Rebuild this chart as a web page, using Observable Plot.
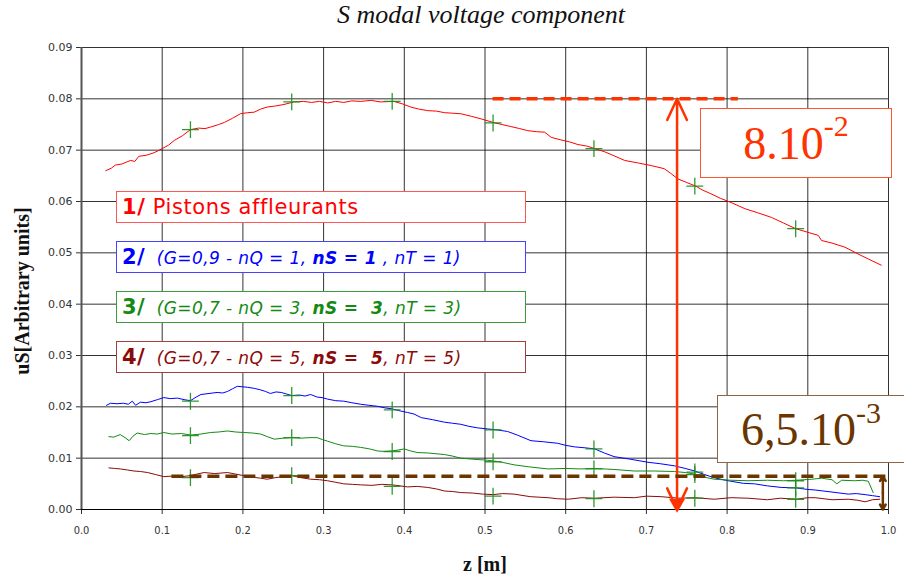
<!DOCTYPE html>
<html>
<head>
<meta charset="utf-8">
<script src="https://cdn.jsdelivr.net/npm/d3@7"></script>
<script src="https://cdn.jsdelivr.net/npm/@observablehq/plot@0.6"></script>
<style>
  html, body { margin: 0; padding: 0; background: #fff; }
  #wrap { position: relative; width: 904px; height: 580px; overflow: hidden; }
  #title { height: 38px; line-height: 42px; text-align: center; font: italic 26px "Liberation Serif", serif; color: #111;
           padding-left: 58px; box-sizing: border-box; width: 904px; }
  .axis-title { position: absolute; font: bold 20px "Liberation Serif", serif; color: #111; white-space: nowrap; text-align: center; }
  .key { position: absolute; left: 116px; background: #fff; border: 1.5px solid; box-sizing: border-box; width: 410px; height: 32px;
         font-family: "DejaVu Sans", sans-serif; white-space: nowrap; line-height: 30px; padding-left: 5px; }
  .key b.num { font-style: normal; font-weight: bold; font-size: 21px; }
  .key i { font-style: italic; }
  .note { position: absolute; background: #fff; border: 1.5px solid; box-sizing: border-box; text-align: center;
          font-family: "Liberation Serif", serif; font-size: 46px; }
  .note sup { font-size: 30px; position: relative; top: 2px; vertical-align: top; line-height: 1; }
</style>
</head>
<body>
<div id="wrap">
  <div id="title">S modal voltage component</div>
  <div id="chart"></div>
</div>
<script>
// Series: [z (m), uS (arbitrary units)]
const pistons = [
  [0.030,0.0660],[0.037,0.0665],[0.042,0.0671],[0.050,0.0673],[0.056,0.0677],[0.061,0.0680],[0.066,0.0678],
  [0.071,0.0688],[0.080,0.0690],[0.090,0.0695],[0.100,0.0703],[0.108,0.0710],[0.115,0.0719],[0.125,0.0728],
  [0.135,0.0740],[0.145,0.0743],[0.153,0.0742],[0.160,0.0745],[0.170,0.0750],[0.177,0.0754],[0.187,0.0762],
  [0.197,0.0771],[0.206,0.0773],[0.214,0.0774],[0.222,0.0780],[0.230,0.0784],[0.240,0.0786],[0.251,0.0789],
  [0.263,0.0794],[0.275,0.0795],[0.285,0.0793],[0.295,0.0795],[0.305,0.0792],[0.315,0.0795],[0.325,0.0793],
  [0.335,0.0796],[0.346,0.0795],[0.359,0.0797],[0.370,0.0794],[0.387,0.0795],[0.398,0.0790],[0.408,0.0784],
  [0.418,0.0780],[0.429,0.0777],[0.440,0.0776],[0.450,0.0773],[0.460,0.0772],[0.470,0.0771],[0.483,0.0766],
  [0.495,0.0761],[0.510,0.0754],[0.521,0.0750],[0.532,0.0746],[0.543,0.0742],[0.553,0.0738],[0.564,0.0736],
  [0.574,0.0735],[0.582,0.0725],[0.594,0.0720],[0.605,0.0716],[0.615,0.0711],[0.626,0.0708],[0.636,0.0703],
  [0.648,0.0697],[0.660,0.0689],[0.673,0.0680],[0.690,0.0675],[0.706,0.0670],[0.722,0.0664],[0.730,0.0655],
  [0.739,0.0644],[0.750,0.0637],[0.761,0.0630],[0.770,0.0622],[0.780,0.0615],[0.792,0.0606],[0.805,0.0598],
  [0.822,0.0586],[0.838,0.0578],[0.855,0.0569],[0.870,0.0558],[0.885,0.0547],[0.900,0.0540],[0.913,0.0534],
  [0.917,0.0524],[0.930,0.0519],[0.946,0.0511],[0.962,0.0498],[0.975,0.0488],[0.991,0.0476]
];
const config1 = [
  [0.031,0.0203],[0.036,0.0207],[0.044,0.0206],[0.052,0.0207],[0.058,0.0205],[0.063,0.0211],[0.067,0.0203],
  [0.073,0.0209],[0.080,0.0208],[0.086,0.0210],[0.094,0.0214],[0.102,0.0218],[0.110,0.0216],[0.119,0.0217],
  [0.127,0.0214],[0.135,0.0212],[0.142,0.0219],[0.148,0.0224],[0.158,0.0226],[0.168,0.0228],[0.175,0.0227],
  [0.181,0.0230],[0.187,0.0235],[0.193,0.0240],[0.200,0.0239],[0.206,0.0238],[0.214,0.0236],[0.222,0.0233],
  [0.228,0.0230],[0.234,0.0226],[0.241,0.0229],[0.2475,0.0228],[0.254,0.0225],[0.2605,0.0222],[0.270,0.0223],
  [0.277,0.0221],[0.284,0.0224],[0.292,0.0219],[0.298,0.0218],[0.305,0.0215],[0.315,0.0212],[0.325,0.0211],
  [0.335,0.0208],[0.346,0.0205],[0.356,0.0203],[0.367,0.0201],[0.376,0.0198],[0.385,0.0196],[0.395,0.0192],
  [0.404,0.0189],[0.412,0.0186],[0.421,0.0179],[0.435,0.0175],[0.450,0.0170],[0.460,0.0168],[0.470,0.0166],
  [0.480,0.0162],[0.491,0.0159],[0.503,0.0157],[0.515,0.0155],[0.528,0.0152],[0.540,0.0145],[0.557,0.0134],
  [0.572,0.0132],[0.590,0.0129],[0.600,0.0125],[0.611,0.0122],[0.625,0.0120],[0.636,0.0118],[0.648,0.0110],
  [0.660,0.0103],[0.680,0.0098],[0.702,0.0092],[0.718,0.0089],[0.735,0.0085],[0.748,0.0080],[0.760,0.0075],
  [0.772,0.0068],[0.784,0.0062],[0.795,0.0058],[0.805,0.0055],[0.820,0.0051],[0.834,0.0050],[0.850,0.0046],
  [0.867,0.0043],[0.886,0.0042],[0.900,0.0039],[0.909,0.0038],[0.930,0.0034],[0.950,0.0030],[0.960,0.0031],
  [0.971,0.0029],[0.980,0.0027],[0.989,0.0025]
];
const config3 = [
  [0.034,0.0142],[0.040,0.0141],[0.048,0.0146],[0.054,0.0140],[0.059,0.0134],[0.064,0.0143],[0.069,0.0149],
  [0.078,0.0146],[0.086,0.0148],[0.094,0.0147],[0.102,0.0150],[0.112,0.0147],[0.124,0.0148],[0.135,0.0145],
  [0.148,0.0147],[0.160,0.0150],[0.170,0.0151],[0.181,0.0153],[0.191,0.0151],[0.201,0.0150],[0.212,0.0149],
  [0.222,0.0147],[0.230,0.0142],[0.239,0.0137],[0.250,0.0139],[0.2605,0.0140],[0.272,0.0139],[0.283,0.0140],
  [0.292,0.0140],[0.299,0.0136],[0.305,0.0133],[0.315,0.0128],[0.325,0.0124],[0.336,0.0123],[0.346,0.0121],
  [0.357,0.0118],[0.367,0.0114],[0.376,0.0113],[0.385,0.0114],[0.393,0.0116],[0.400,0.0118],[0.408,0.0114],
  [0.416,0.0111],[0.430,0.0110],[0.450,0.0107],[0.460,0.0104],[0.470,0.0100],[0.485,0.0098],[0.503,0.0096],
  [0.518,0.0093],[0.536,0.0087],[0.555,0.0083],[0.578,0.0079],[0.600,0.0080],[0.618,0.0079],[0.636,0.0080],
  [0.660,0.0078],[0.685,0.0075],[0.710,0.0075],[0.735,0.0074],[0.748,0.0072],[0.760,0.0069],[0.772,0.0063],
  [0.784,0.0059],[0.805,0.0057],[0.826,0.0056],[0.850,0.0057],[0.870,0.0056],[0.886,0.0057],[0.905,0.0059],
  [0.917,0.0061],[0.930,0.0058],[0.936,0.0050],[0.942,0.0057],[0.958,0.0056],[0.968,0.0057],[0.975,0.0055],
  [0.981,0.0033]
];
const config5 = [
  [0.034,0.0081],[0.041,0.0080],[0.048,0.0079],[0.057,0.0077],[0.065,0.0075],[0.073,0.0074],[0.082,0.0072],
  [0.092,0.0068],[0.102,0.0064],[0.112,0.0065],[0.124,0.0064],[0.135,0.0066],[0.143,0.0069],[0.152,0.0072],
  [0.165,0.0070],[0.181,0.0072],[0.191,0.0069],[0.201,0.0066],[0.212,0.0063],[0.222,0.0061],[0.230,0.0059],
  [0.240,0.0062],[0.250,0.0064],[0.2605,0.0066],[0.272,0.0062],[0.284,0.0059],[0.295,0.0058],[0.305,0.0056],
  [0.315,0.0053],[0.325,0.0050],[0.336,0.0049],[0.346,0.0048],[0.360,0.0047],[0.372,0.0049],[0.385,0.0048],
  [0.395,0.0046],[0.404,0.0044],[0.416,0.0045],[0.429,0.0043],[0.440,0.0040],[0.450,0.0036],[0.460,0.0035],
  [0.470,0.0033],[0.485,0.0032],[0.497,0.0030],[0.510,0.0029],[0.522,0.0031],[0.536,0.0030],[0.556,0.0025],
  [0.578,0.0023],[0.590,0.0021],[0.603,0.0020],[0.620,0.0023],[0.636,0.0022],[0.660,0.0024],[0.685,0.0023],
  [0.700,0.0026],[0.718,0.0025],[0.740,0.0022],[0.760,0.0023],[0.784,0.0020],[0.805,0.0023],[0.826,0.0022],
  [0.850,0.0019],[0.866,0.0022],[0.886,0.0020],[0.900,0.0023],[0.909,0.0023],[0.930,0.0019],[0.950,0.0020],
  [0.962,0.0018],[0.971,0.0015],[0.980,0.0019],[0.989,0.0020]
];

// Sensor positions along z and the sampled values on each curve
const sensorZ = [0.135, 0.2605, 0.385, 0.51, 0.635, 0.76, 0.885];
const sensorPistons = [0.0740, 0.0794, 0.0795, 0.0753, 0.0703, 0.0630, 0.0547];
const sensorConfig1 = [0.0211, 0.0222, 0.0194, 0.0155, 0.0118, 0.0073, 0.0042];
const sensorConfig3 = [0.0144, 0.0140, 0.0113, 0.0093, 0.0079, 0.0068, 0.0056];
const sensorConfig5 = [0.0062, 0.0066, 0.0045, 0.0026, 0.0021, 0.0022, 0.0020];

const seriesNames = ["1", "2", "3", "4"];
const seriesColors = ["#ff0000", "#0000ff", "#138a13", "#8b0a0a"];

const xTicks = [0, 0.1, 0.2, 0.3, 0.4, 0.5, 0.6, 0.7, 0.8, 0.9, 1.0];
const yTicks = [0, 0.01, 0.02, 0.03, 0.04, 0.05, 0.06, 0.07, 0.08, 0.09];

// Annotated levels
const peakLevel = 0.08;      // 8.10^-2
const floorLevel = 0.0065;   // 6,5.10^-3
const peakSpan = [0.51, 0.814];
const floorSpan = [0.112, 1.0];
const peakArrowZ = 0.738;
const floorArrowZ = 0.993;

const legendLabels = [
  {num: "1/", html: " Pistons affleurants"},
  {num: "2/", html: " &nbsp;<i>(G=0,9 - nQ = 1, <b>nS = 1</b> , nT = 1)</i>"},
  {num: "3/", html: " &nbsp;<i>(G=0,7 - nQ = 3, <b>nS = &nbsp;3</b>, nT = 3)</i>"},
  {num: "4/", html: " &nbsp;<i>(G=0,7 - nQ = 5, <b>nS = &nbsp;5</b>, nT = 5)</i>"}
];

const curves = [pistons, config1, config3, config5];
const sensors = [sensorPistons, sensorConfig1, sensorConfig3, sensorConfig5];

const rows = curves.flatMap((pts, i) => pts.map(([z, v]) => ({z, v, name: seriesNames[i]})));
const sensorRows = sensors.flatMap((vals, i) => vals.map((v, j) => ({z: sensorZ[j], v, name: seriesNames[i]})));

const peakColor = "#ff3300";
const floorColor = "#6b3500";

const chart = Plot.plot({
  width: 904,
  height: 542,
  marginLeft: 81,
  marginRight: 16,
  marginTop: 9,
  marginBottom: 71,
  style: {fontFamily: "DejaVu Sans, sans-serif", fontSize: "11px", color: "#333", background: "#fff"},
  x: {domain: [0, 1], label: null},
  y: {domain: [0, 0.09], label: null},
  color: {domain: seriesNames, range: seriesColors},
  marks: [
    Plot.gridX(xTicks, {stroke: "#000", strokeOpacity: 0.8}),
    Plot.gridY(yTicks, {stroke: "#000", strokeOpacity: 0.8}),
    Plot.axisX(xTicks, {tickFormat: d3.format(".1f"), tickSize: 5, tickPadding: 12, label: null,
                        fontFamily: "DejaVu Sans Condensed, DejaVu Sans, sans-serif"}),
    Plot.axisY(yTicks, {tickFormat: d3.format(".2f"), tickSize: 5, tickPadding: 4, label: null}),
    Plot.ruleX([0], {stroke: "#555", strokeWidth: 2}),
    Plot.ruleY([0], {stroke: "#000", strokeWidth: 1.2}),
    Plot.line(rows, {x: "z", y: "v", z: "name", stroke: "name", strokeWidth: 1}),
    Plot.dot(sensorRows, {x: "z", y: "v", symbol: "plus", r: 5.5, stroke: "#1c8c1c", strokeWidth: 1.3, strokeOpacity: 0.9}),
    // 8.10^-2 level and arrow
    Plot.ruleY([peakLevel], {x1: peakSpan[0], x2: peakSpan[1], stroke: peakColor, strokeWidth: 3.5, strokeDasharray: "11,6"}),
    Plot.arrow([{z: peakArrowZ, a: peakLevel / 2, b: peakLevel}, {z: peakArrowZ, a: peakLevel / 2, b: 0}],
               {x1: "z", x2: "z", y1: "a", y2: "b", stroke: peakColor, strokeWidth: 2.5, headLength: 14, headAngle: 50}),
    Plot.dot([{z: peakArrowZ, v: 0}], {x: "z", y: "v", symbol: "triangle", rotate: 180, r: 6, fill: peakColor, dy: -6}),
    // 6,5.10^-3 level and arrow
    Plot.ruleY([floorLevel], {x1: floorSpan[0], x2: floorSpan[1], stroke: floorColor, strokeWidth: 3.5, strokeDasharray: "12,6"}),
    Plot.arrow([{z: floorArrowZ, a: floorLevel / 2, b: floorLevel}, {z: floorArrowZ, a: floorLevel / 2, b: 0}],
               {x1: "z", x2: "z", y1: "a", y2: "b", stroke: floorColor, strokeWidth: 2.5, headLength: 10, headAngle: 60})
  ]
});
document.getElementById("chart").appendChild(chart);

const wrap = document.getElementById("wrap");

// Axis titles
const yTitle = document.createElement("div");
yTitle.className = "axis-title";
yTitle.textContent = "uS[Arbitrary units]";
Object.assign(yTitle.style, {left: "-78px", top: "278px", width: "200px", height: "26px", lineHeight: "26px", transform: "rotate(-90deg)"});
wrap.appendChild(yTitle);

const xTitle = document.createElement("div");
xTitle.className = "axis-title";
xTitle.textContent = "z [m]";
Object.assign(xTitle.style, {left: "435px", top: "552px", width: "100px", height: "24px", lineHeight: "24px"});
wrap.appendChild(xTitle);

// Legend boxes
const keyTops = [191, 241, 291, 341];
const keyBorders = ["#ff5555", "#4444ff", "#3d9a3d", "#a04040"];
const keySizes = ["21px", "17px", "17px", "17px"];
const keySpacing = ["0.6px", "0.4px", "0.4px", "0.4px"];
legendLabels.forEach((d, i) => {
  const el = document.createElement("div");
  el.className = "key";
  el.style.top = keyTops[i] + "px";
  el.style.borderColor = keyBorders[i];
  el.style.color = seriesColors[i];
  el.style.fontSize = keySizes[i];
  el.style.letterSpacing = keySpacing[i];
  el.innerHTML = `<b class="num">${d.num}</b>${d.html}`;
  wrap.appendChild(el);
});

// Value call-outs
function note(left, top, width, height, color, border, html) {
  const el = document.createElement("div");
  el.className = "note";
  Object.assign(el.style, {left: left + "px", top: top + "px", width: width + "px", height: height + "px",
                           lineHeight: height + "px", color, borderColor: border});
  el.innerHTML = html;
  wrap.appendChild(el);
}
note(700, 108, 192, 70, peakColor, "#ff5533", "8.10<sup>-2</sup>");
note(717, 395, 188, 68, floorColor, "#8a6548", "6,5.10<sup>-3</sup>");
</script>
</body>
</html>
